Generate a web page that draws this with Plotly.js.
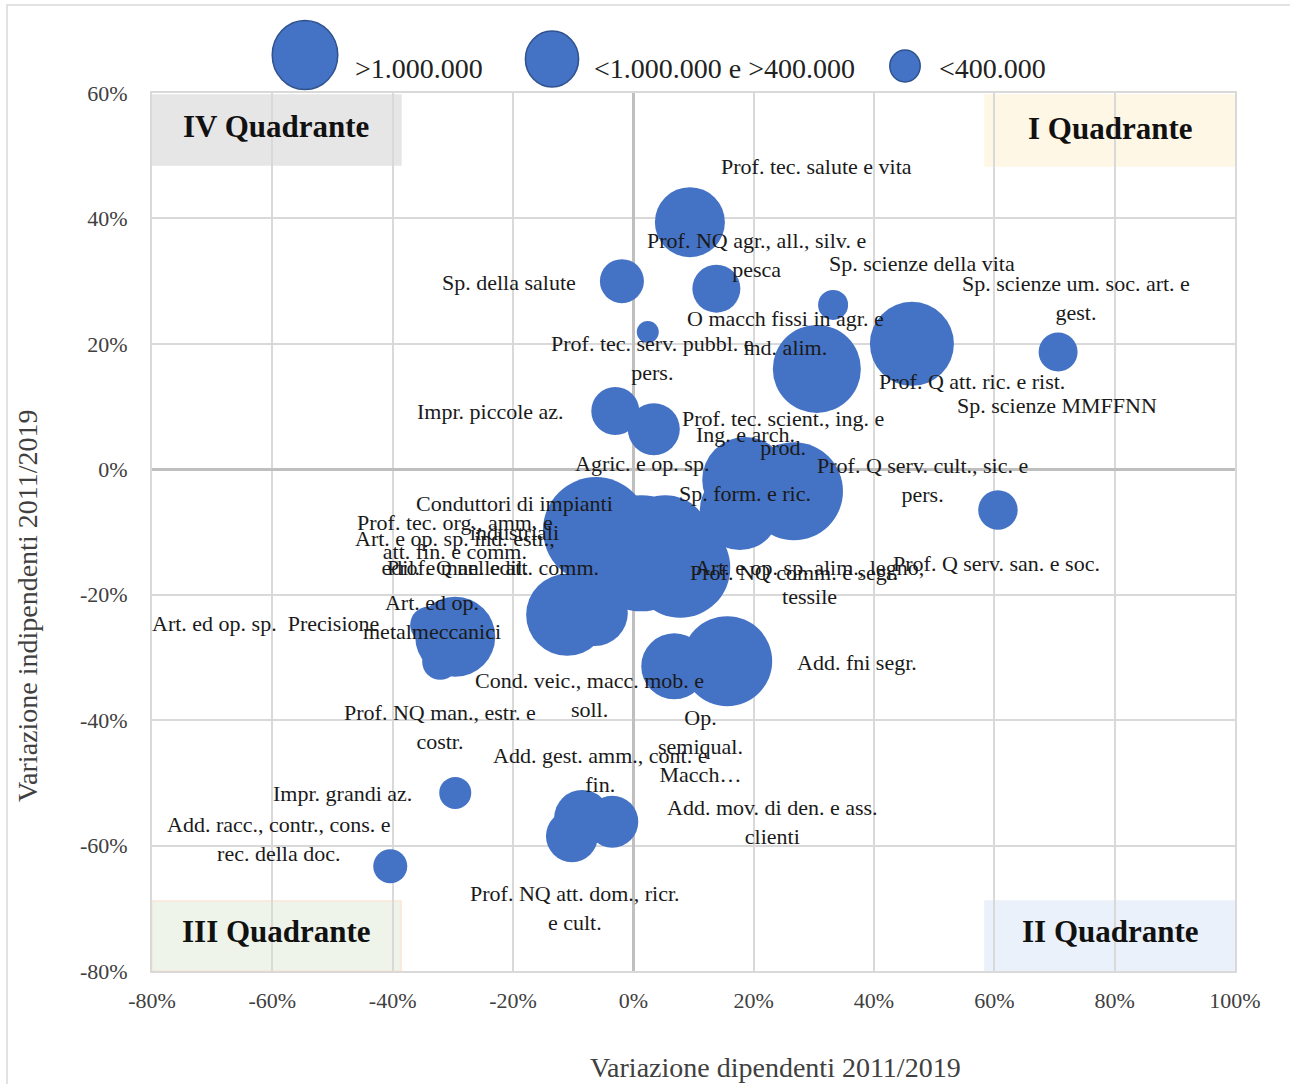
<!DOCTYPE html>
<html>
<head>
<meta charset="utf-8">
<script src="https://cdn.plot.ly/plotly-3.0.1.min.js"></script>
<style>
html,body{margin:0;padding:0;background:#fff;}
#chart{width:1290px;height:1084px;}
</style>
</head>
<body>
<div id="chart"></div>
<script>
// ---------------- DATA ----------------
const names = [
  "Prof. tec. salute e vita",
  "Prof. NQ agr., all., silv. e<br>pesca",
  "Sp. della salute",
  "Sp. scienze della vita",
  "Sp. scienze um. soc. art. e<br>gest.",
  "Sp. scienze MMFFNN",
  "O macch fissi in agr. e<br>ind. alim.",
  "Prof. Q att. ric. e rist.",
  "Prof. tec. serv. pubbl. e<br>pers.",
  "Impr. piccole az.",
  "Prof. tec. scient., ing. e<br>prod.",
  "Ing. e arch.",
  "Sp. form. e ric.",
  "Prof. Q serv. cult., sic. e<br>pers.",
  "Agric. e op. sp.",
  "Conduttori di impianti<br>industriali",
  "Prof. Q nelle att. comm.",
  "Prof. tec. org., amm. e<br>att. fin. e comm.",
  "Art. e op. sp. ind. estr.,<br>edil. e man. edil.",
  "Prof. NQ comm. e segr.",
  "Art. e op. sp. alim., legno,<br>tessile",
  "Prof. Q serv. san. e soc.",
  "Add. fni segr.",
  "Op.<br>semiqual.<br>Macch…",
  "Cond. veic., macc. mob. e<br>soll.",
  "Art. ed op.<br>metalmeccanici",
  "Art. ed op. sp.\u00a0 Precisione",
  "Prof. NQ man., estr. e<br>costr.",
  "Add. gest. amm., cont. e<br>fin.",
  "Add. mov. di den. e ass.<br>clienti",
  "Prof. NQ att. dom., ricr.<br>e cult.",
  "Impr. grandi az.",
  "Add. racc., contr., cons. e<br>rec. della doc."
];
// Variazione dipendenti 2011/2019 (%)
const varDipendenti = [9.4, 13.8, -1.9, 33.2, 70.6, 49.3, 30.5, 46.3, 2.4, -3.0, 3.4, 18.6, 18.6, 26.7, 2.4, -6.2, 1.3, 5.3, -11.0, 7.8, 17.7, 60.6, 15.6, 6.8, -6.4, -29.6, -34.1, -32.1, -8.5, -3.5, -10.2, -29.6, -40.4];
// Variazione indipendenti 2011/2019 (%)
const varIndipendenti = [39.4, 28.8, 30.0, 26.2, 18.7, 18.7, 16.0, 20.0, 21.9, 9.3, 6.4, -0.1, -1.7, -3.5, -7.8, -9.7, -13.4, -11.3, -23.2, -15.7, -6.5, -6.5, -30.6, -31.4, -22.9, -26.7, -24.8, -30.7, -55.6, -56.2, -58.5, -51.6, -63.3];
// Occupati (dimensione bolla)
const occupati = [1225000, 576000, 484000, 225000, 380000, 196000, 1936000, 1764000, 121000, 576000, 676000, 625000, 1849000, 2401000, 390000, 2809000, 3364000, 2025000, 1681000, 2500000, 1600000, 390000, 2025000, 1089000, 1089000, 1600000, 324000, 324000, 784000, 676000, 676000, 256000, 289000];

const legendLabels = [">1.000.000", "<1.000.000 e >400.000", "<400.000"];
const legendValues = [1190000, 784000, 256000];

const quadrantLabels = ["IV Quadrante", "I Quadrante", "III Quadrante", "II Quadrante"];

const xTickVals = [-80, -60, -40, -20, 0, 20, 40, 60, 80, 100];
const xTickText = ["-80%", "-60%", "-40%", "-20%", "0%", "20%", "40%", "60%", "80%", "100%"];
const yTickVals = [-80, -60, -40, -20, 0, 20, 40, 60];
const yTickText = ["-80%", "-60%", "-40%", "-20%", "0%", "20%", "40%", "60%"];

// ---------------- LAYOUT HELPERS ----------------
// label offsets in pixels (dx right, dy down) relative to each bubble
const labelOffsets = [
  [127,-56],[40,-34],[-113,1],[89,-41],[18,-54],[127,53],[-31,-36],[60,38],[5,26],[-125,1],
  [129,4],[0,-35],[0,14],[129,-11],[-6,-55],[-82,-12],[-148,14],[-210,-3],[-112,-62],[114,5],
  [70,72],[-1,53],[130,1],[26,80],[-5,82],[-23,-20],[-163,-1],[0,65],[18,-48],[160,0],
  [3,72],[-113,1],[-111,-27]
];

const SIZEREF = 500; // area mode: rendered radius = sqrt(v/(2*sizeref))
const bubbleColor = "#4472c4";
const serif = "Liberation Serif, Times New Roman, serif";

const W = 1290, H = 1084;
const M = {l:152, r:55, t:93, b:113};
const PW = W - M.l - M.r, PH = H - M.t - M.b;
const px2x = p => (p - M.l) / PW;
const px2y = p => (H - M.b - p) / PH;

const trace = {
  type: "scatter",
  mode: "markers",
  x: varDipendenti,
  y: varIndipendenti,
  text: names,
  hoverinfo: "text",
  marker: {
    size: occupati,
    sizemode: "area",
    sizeref: SIZEREF,
    color: bubbleColor,
    opacity: 1,
    line: {width: 0}
  },
  showlegend: false
};

const annotations = names.map((n, i) => ({
  x: varDipendenti[i], y: varIndipendenti[i], xref: "x", yref: "y",
  text: n, showarrow: false, xanchor: "center", yanchor: "middle",
  xshift: labelOffsets[i][0], yshift: -labelOffsets[i][1],
  font: {family: serif, size: 22, color: "#1a1a1a"}
}));

const shapes = [];
// outer chart border
shapes.push({type:"rect", xref:"paper", yref:"paper", x0:px2x(7), x1:px2x(1300), y0:px2y(1095), y1:px2y(5),
  line:{color:"#d9d9d9", width:1.5}, fillcolor:"rgba(0,0,0,0)", layer:"below"});

// quadrant boxes
const qBoxes = [
  {x0:152, x1:401, y0:95, y1:165, fill:"#e7e6e6", line:"#e7e6e6"},
  {x0:985, x1:1235, y0:95, y1:166, fill:"#fff7e6", line:"#fff7e6"},
  {x0:152, x1:401, y0:901, y1:971, fill:"#eef4ea", line:"#fbe5d6"},
  {x0:985, x1:1235, y0:901, y1:971, fill:"#eaf1fa", line:"#eaf1fa"}
];
const qText = [[276,126],[1110,128],[276,931],[1110,931]];
qBoxes.forEach((b, i) => {
  shapes.push({type:"rect", xref:"paper", yref:"paper", x0:px2x(b.x0), x1:px2x(b.x1), y0:px2y(b.y1), y1:px2y(b.y0),
    fillcolor:b.fill, line:{color:b.line, width:1.5}, layer:"between"});
  annotations.push({xref:"paper", yref:"paper", x:px2x(qText[i][0]), y:px2y(qText[i][1]),
    text:"<b>"+quadrantLabels[i]+"</b>", showarrow:false, xanchor:"center", yanchor:"middle",
    font:{family:serif, size:31, color:"#111"}});
});

// legend (bubble symbols drawn with the same area scale)
const legCenters = [[305,55],[552,59],[905,66]];
const legTextX = [353, 592, 937];
legendValues.forEach((v, i) => {
  const r = Math.sqrt(v / (2 * SIZEREF));
  shapes.push({type:"circle", xref:"paper", yref:"paper", xsizemode:"pixel", ysizemode:"pixel",
    xanchor:px2x(legCenters[i][0]), yanchor:px2y(legCenters[i][1]),
    x0:-r*0.95, x1:r*0.95, y0:-r, y1:r,
    fillcolor:bubbleColor, line:{color:"#2f528f", width:1.5}, layer:"above"});
  annotations.push({xref:"paper", yref:"paper", x:px2x(legTextX[i]), y:px2y(68),
    text:legendLabels[i], showarrow:false, xanchor:"left", yanchor:"middle",
    font:{family:serif, size:28, color:"#222"}});
});

// axis titles
annotations.push({xref:"paper", yref:"paper", x:px2x(775), y:px2y(1067), text:"Variazione dipendenti 2011/2019",
  showarrow:false, xanchor:"center", yanchor:"middle", font:{family:serif, size:28, color:"#404040"}});
annotations.push({xref:"paper", yref:"paper", x:px2x(27), y:px2y(606), text:"Variazione indipendenti 2011/2019",
  showarrow:false, xanchor:"center", yanchor:"middle", textangle:-90, font:{family:serif, size:28, color:"#404040"}});

const layout = {
  width: W, height: H,
  margin: {l:M.l, r:M.r, t:M.t, b:M.b, pad:0},
  paper_bgcolor: "#ffffff",
  plot_bgcolor: "#ffffff",
  showlegend: false,
  xaxis: {
    range: [-80, 100], tickmode: "array", tickvals: xTickVals, ticktext: xTickText,
    showgrid: true, gridcolor: "#d9d9d9", gridwidth: 2,
    zeroline: true, zerolinecolor: "#bfbfbf", zerolinewidth: 3,
    showline: true, linecolor: "#d9d9d9", linewidth: 2, mirror: true,
    ticks: "", ticklabelstandoff: 9,
    tickfont: {family: serif, size: 22, color: "#404040"},
    fixedrange: true
  },
  yaxis: {
    range: [-80, 60], tickmode: "array", tickvals: yTickVals, ticktext: yTickText,
    showgrid: true, gridcolor: "#d9d9d9", gridwidth: 2,
    zeroline: true, zerolinecolor: "#bfbfbf", zerolinewidth: 3,
    showline: true, linecolor: "#d9d9d9", linewidth: 2, mirror: true,
    ticks: "", ticklabelstandoff: 18,
    tickfont: {family: serif, size: 22, color: "#404040"},
    fixedrange: true
  },
  shapes: shapes,
  annotations: annotations
};

Plotly.newPlot("chart", [trace], layout, {displayModeBar: false, staticPlot: true});
</script>
</body>
</html>
